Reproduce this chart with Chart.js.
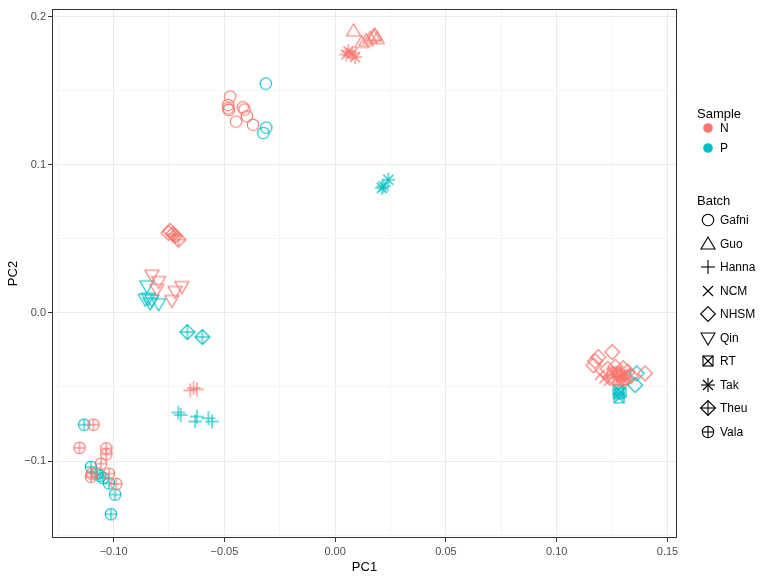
<!DOCTYPE html>
<html>
<head>
<meta charset="utf-8">
<script src="https://cdn.jsdelivr.net/npm/chart.js@4.4.0/dist/chart.umd.min.js"></script>
<style>
body { margin: 0; background: #fff; font-family: "Liberation Sans", Arial, sans-serif; }
#wrap { position: relative; width: 768px; height: 577px; }
#leyenda { position: absolute; left: 0; top: 0; width: 768px; height: 577px; pointer-events: none; }
.txt { position: absolute; transform: translateY(-50%); white-space: nowrap; color: #000; }
.ico { position: absolute; }
</style>
</head>
<body>
<div id="wrap">
  <canvas id="graficoPCA" width="768" height="577"></canvas>
  <div id="leyenda"></div>
</div>
<script>
// ticks
const xTicks = [-0.10, -0.05, 0.00, 0.05, 0.10, 0.15];
const yTicks = [-0.1, 0.0, 0.1, 0.2];

const samples = ['N', 'P'];
const sampleColors = ['#F8766D', '#00BFC4'];
const batches = ['Gafni', 'Guo', 'Hanna', 'NCM', 'NHSM', 'Qin', 'RT', 'Tak', 'Theu', 'Vala'];
const batchShapes = ['circle', 'triUp', 'plus', 'cross', 'diamond', 'triDown', 'squareX', 'asterisk', 'diamondPlus', 'circlePlus'];

// puntos [PC1, PC2]
const gafniN = [[-0.0474, 0.1462], [-0.0483, 0.1405], [-0.0483, 0.1382], [-0.0480, 0.1371], [-0.0417, 0.1389],
                [-0.0409, 0.1374], [-0.0398, 0.1329], [-0.0447, 0.1293], [-0.0371, 0.1271]];
const gafniP = [[-0.0313, 0.1549], [-0.0311, 0.1252], [-0.0324, 0.1215]];
const guoN = [[0.0083, 0.1906], [0.0120, 0.1827], [0.0140, 0.1840], [0.0158, 0.1856], [0.0173, 0.1871],
              [0.0180, 0.1877], [0.0190, 0.1853]];
const hannaN = [[-0.0639, -0.0507], [-0.0624, -0.0516], [-0.0654, -0.0523]];
const hannaP = [[-0.0708, -0.0672], [-0.0697, -0.0689], [-0.0624, -0.0700], [-0.0632, -0.0733],
                [-0.0572, -0.0711], [-0.0556, -0.0733]];
const ncmN = [[0.1195, -0.0417], [0.1215, -0.0442], [0.1235, -0.0457]];
const nhsmN = [[-0.0745, 0.0555], [-0.0752, 0.0540],
               [0.1173, -0.0325], [0.1188, -0.0298], [0.1251, -0.0264], [0.1166, -0.0354], [0.1399, -0.0408],
               [0.1230, -0.0377], [0.1265, -0.0363], [0.1300, -0.0373], [0.1320, -0.0397], [0.1280, -0.0417],
               [0.1240, -0.0437], [0.1310, -0.0442], [0.1335, -0.0427]];
const nhsmP = [[0.1361, -0.0408], [0.1354, -0.0487]];
const qinN = [[-0.0827, 0.0255], [-0.0797, 0.0212], [-0.0805, 0.0160], [-0.0692, 0.0178], [-0.0722, 0.0145],
              [-0.0737, 0.0084]];
const qinP = [[-0.0850, 0.0182], [-0.0843, 0.0100], [-0.0827, 0.0088], [-0.0835, 0.0067], [-0.0797, 0.0062],
              [-0.0857, 0.0093]];
const rtN = [[0.1270, -0.0397], [0.1290, -0.0427], [0.1250, -0.0407], [0.1310, -0.0417], [0.1280, -0.0457],
             [0.1300, -0.0452]];
const rtP = [[0.1278, -0.0520], [0.1280, -0.0546], [0.1282, -0.0573], [0.1290, -0.0536]];
const takN = [[0.0060, 0.1767], [0.0090, 0.1728], [0.0050, 0.1746], [0.0077, 0.1753]];
const takP = [[0.0240, 0.0900], [0.0218, 0.0855], [0.0211, 0.0844]];
const theuN = [[-0.0732, 0.0533], [-0.0707, 0.0496], [-0.0722, 0.0520]];
const theuP = [[-0.0667, -0.0129], [-0.0599, -0.0162]];
const valaN = [[-0.1091, -0.0755], [-0.1154, -0.0911], [-0.1033, -0.0915], [-0.1033, -0.0955], [-0.1057, -0.1018],
               [-0.1098, -0.1085], [-0.1102, -0.1107], [-0.1021, -0.1085], [-0.0988, -0.1155]];
const valaP = [[-0.1133, -0.0755], [-0.1102, -0.1040], [-0.1075, -0.1085], [-0.1060, -0.1100], [-0.1048, -0.1115],
               [-0.1021, -0.1151], [-0.0993, -0.1227], [-0.1012, -0.1360]];

const grupos = [
    ['Gafni', 'N', gafniN], ['Gafni', 'P', gafniP],
    ['Guo', 'N', guoN],
    ['Hanna', 'N', hannaN], ['Hanna', 'P', hannaP],
    ['NCM', 'N', ncmN],
    ['NHSM', 'N', nhsmN], ['NHSM', 'P', nhsmP],
    ['Qin', 'N', qinN], ['Qin', 'P', qinP],
    ['RT', 'N', rtN], ['RT', 'P', rtP],
    ['Tak', 'N', takN], ['Tak', 'P', takP],
    ['Theu', 'N', theuN], ['Theu', 'P', theuP],
    ['Vala', 'N', valaN], ['Vala', 'P', valaP]
];

// dibuja un simbolo tipo ggplot en un canvas pequeño
function marcador(forma, color, relleno) {
    const c = document.createElement('canvas');
    c.width = 22; c.height = 22;
    const g = c.getContext('2d');
    const m = 11;
    g.strokeStyle = color;
    g.fillStyle = color;
    g.lineWidth = 1.1;
    const linea = (x1, y1, x2, y2) => { g.beginPath(); g.moveTo(m + x1, m + y1); g.lineTo(m + x2, m + y2); g.stroke(); };
    const circulo = r => { g.beginPath(); g.arc(m, m, r, 0, Math.PI * 2); relleno ? g.fill() : g.stroke(); };
    const rombo = r => { g.beginPath(); g.moveTo(m, m - r); g.lineTo(m + r, m); g.lineTo(m, m + r); g.lineTo(m - r, m); g.closePath(); g.stroke(); };
    const mas = r => { linea(-r, 0, r, 0); linea(0, -r, 0, r); };
    const equis = r => { linea(-r, -r, r, r); linea(-r, r, r, -r); };
    switch (forma) {
        case 'circle': circulo(relleno ? 4.8 : 5.7); break;
        case 'triUp':
            g.beginPath(); g.moveTo(m, m - 7); g.lineTo(m + 7, m + 5); g.lineTo(m - 7, m + 5); g.closePath(); g.stroke(); break;
        case 'triDown':
            g.beginPath(); g.moveTo(m, m + 7); g.lineTo(m + 7, m - 5); g.lineTo(m - 7, m - 5); g.closePath(); g.stroke(); break;
        case 'plus': mas(7); break;
        case 'cross': equis(5); break;
        case 'diamond': rombo(7.4); break;
        case 'squareX': g.strokeRect(m - 5, m - 5, 10, 10); equis(5); break;
        case 'asterisk': mas(7); equis(5); break;
        case 'diamondPlus': rombo(7.4); mas(7.4); break;
        case 'circlePlus': circulo(5.7); mas(5.7); break;
    }
    return c;
}

const datasets = grupos.map(([batch, sample, pts]) => ({
    label: batch + ' ' + sample,
    data: pts.map(p => ({ x: p[0], y: p[1] })),
    pointStyle: marcador(batchShapes[batches.indexOf(batch)], sampleColors[samples.indexOf(sample)], false),
    pointRadius: 8,
    pointHoverRadius: 8
}));

function menores(ticks) {
    const paso = ticks[1] - ticks[0];
    const out = [];
    for (let i = 0; i <= ticks.length; i++) out.push(+(ticks[0] + (i - 0.5) * paso).toFixed(4));
    return out;
}
const esMayor = (lista, v) => lista.some(t => Math.abs(t - v) < 1e-6);

const bordePanel = {
    id: 'bordePanel',
    afterDatasetsDraw(chart) {
        const a = chart.chartArea, ctx = chart.ctx;
        ctx.save();
        ctx.strokeStyle = '#333333';
        ctx.lineWidth = 1;
        ctx.strokeRect(Math.round(a.left) + 0.5, Math.round(a.top) + 0.5, Math.round(a.right - a.left) - 1, Math.round(a.bottom - a.top) - 1);
        ctx.restore();
    }
};

function eje(mayores, min, max, decimales, titulo, esX) {
    const todos = mayores.concat(menores(mayores)).filter(v => v >= min && v <= max).sort((a, b) => a - b);
    return {
        type: 'linear',
        min: min,
        max: max,
        afterBuildTicks: s => { s.ticks = todos.map(v => ({ value: v })); },
        afterFit: s => { if (esX) s.height = 39; else s.width = 52; },
        border: { display: false },
        grid: {
            color: c => esMayor(mayores, c.tick.value) ? '#EBEBEB' : '#F5F5F5',
            lineWidth: 1,
            tickColor: c => esMayor(mayores, c.tick.value) ? '#333333' : 'rgba(0,0,0,0)',
            tickLength: 4
        },
        ticks: {
            autoSkip: false,
            maxRotation: 0,
            padding: esX ? 3 : 2,
            color: '#4D4D4D',
            font: { family: '"Liberation Sans", Arial, sans-serif', size: 11 },
            callback: v => esMayor(mayores, v) ? v.toFixed(decimales).replace('-', '\u2212') : ''
        },
        title: {
            display: true,
            text: titulo,
            color: '#000',
            font: { family: '"Liberation Sans", Arial, sans-serif', size: 13 },
            padding: esX ? { top: 0, bottom: 2 } : { top: 6, bottom: 0 }
        }
    };
}

new Chart(document.getElementById('graficoPCA').getContext('2d'), {
    type: 'scatter',
    data: { datasets: datasets },
    options: {
        responsive: false,
        animation: false,
        layout: { padding: { top: 2, right: 91, left: 0, bottom: 0 } },
        plugins: { legend: { display: false }, tooltip: { enabled: false } },
        scales: {
            x: eje(xTicks, -0.1278, 0.1543, 2, 'PC1', true),
            y: eje(yTicks, -0.152, 0.2053, 1, 'PC2', false)
        }
    },
    plugins: [bordePanel]
});

// leyenda
const ley = document.getElementById('leyenda');
function texto(t, x, y, size) {
    const d = document.createElement('div');
    d.className = 'txt';
    d.style.left = x + 'px'; d.style.top = y + 'px'; d.style.fontSize = size + 'px';
    d.textContent = t;
    ley.appendChild(d);
}
function icono(cv, x, y) {
    cv.className = 'ico';
    cv.style.left = (x - 11) + 'px'; cv.style.top = (y - 11) + 'px';
    ley.appendChild(cv);
}
texto('Sample', 697, 113, 13);
samples.forEach((s, i) => {
    const y = 128 + i * 20;
    icono(marcador('circle', sampleColors[i], true), 708, y);
    texto(s, 720, y, 12);
});
texto('Batch', 697, 200, 13);
batches.forEach((b, i) => {
    const y = 220 + i * 23.5;
    icono(marcador(batchShapes[i], '#000', false), 708, y);
    texto(b, 720, y, 12);
});
</script>
</body>
</html>
